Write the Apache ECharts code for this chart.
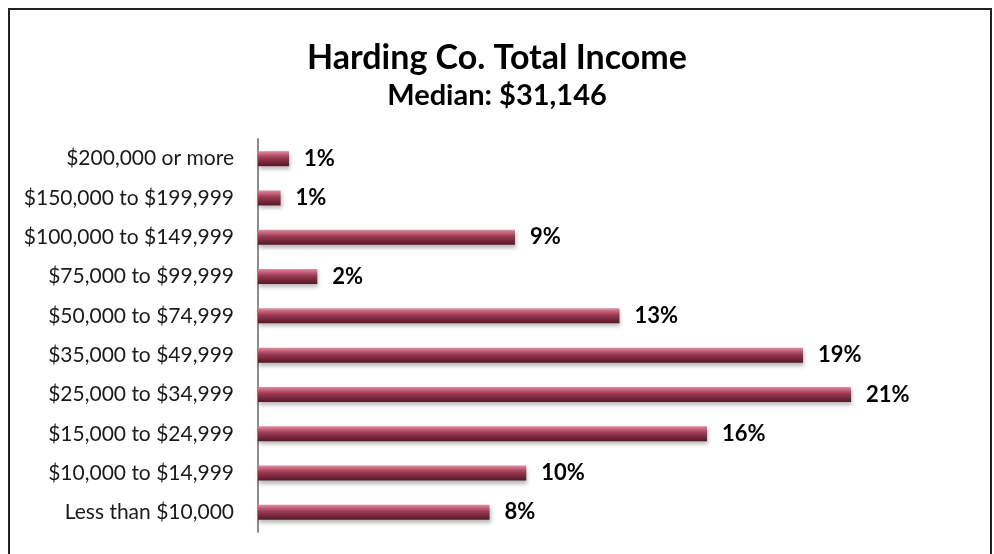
<!DOCTYPE html>
<html>
<head>
<meta charset="utf-8">
<script src="https://cdn.jsdelivr.net/npm/echarts@6/dist/echarts.min.js"></script>
<style>
  html, body { margin: 0; padding: 0; background: #fff; }
  #chart { width: 994px; height: 554px; }
</style>
</head>
<body>
<div id="chart"></div>
<script>
// Income brackets, listed from the bottom of the chart upwards
const categories = [
  'Less than $10,000',
  '$10,000 to $14,999',
  '$15,000 to $24,999',
  '$25,000 to $34,999',
  '$35,000 to $49,999',
  '$50,000 to $74,999',
  '$75,000 to $99,999',
  '$100,000 to $149,999',
  '$150,000 to $199,999',
  '$200,000 or more'
];

// Share of households in each bracket (percent)
const shares = [8.2, 9.5, 15.9, 21.0, 19.3, 12.8, 2.1, 9.1, 0.8, 1.1];

const titleText = 'Harding Co. Total Income';
const subtitleText = 'Median: $31,146';

const chart = echarts.init(document.getElementById('chart'));

const barFill = new echarts.graphic.LinearGradient(0, 0, 0, 1, [
  { offset: 0.00, color: '#e08ea0' },
  { offset: 0.22, color: '#c25e76' },
  { offset: 0.45, color: '#9a3a52' },
  { offset: 0.75, color: '#74263a' },
  { offset: 1.00, color: '#551828' }
]);

chart.setOption({
  backgroundColor: '#ffffff',
  animation: false,
  title: [
    {
      text: titleText,
      left: 'center',
      top: 34,
      textStyle: { fontFamily: 'Lato', fontWeight: 'bold', fontSize: 34, color: '#000', lineHeight: 38 }
    },
    {
      text: subtitleText,
      left: 'center',
      top: 75,
      textStyle: { fontFamily: 'Lato', fontWeight: 'bold', fontSize: 29, color: '#000', lineHeight: 32 }
    }
  ],
  grid: { left: 258, right: 30, top: 139, bottom: 22, containLabel: false },
  xAxis: {
    type: 'value',
    min: 0,
    max: 25,
    show: false
  },
  yAxis: {
    type: 'category',
    data: categories,
    axisLine: { show: true, lineStyle: { color: '#8c8c8c', width: 2 } },
    axisTick: { show: false },
    axisLabel: {
      margin: 24,
      fontFamily: 'Lato',
      fontSize: 21,
      color: '#1a1a1a'
    },
    splitLine: { show: false }
  },
  series: [
    {
      type: 'bar',
      data: shares,
      barWidth: 15,
      itemStyle: {
        color: barFill,
        shadowColor: 'rgba(0,0,0,0.28)',
        shadowBlur: 4,
        shadowOffsetY: 3,
        shadowOffsetX: 1
      },
      label: {
        show: true,
        position: 'right',
        distance: 15,
        fontFamily: 'Lato',
        fontWeight: 'bold',
        fontSize: 22,
        color: '#000',
        formatter: p => Math.round(p.value) + '%'
      }
    }
  ],
  graphic: [
    {
      type: 'rect',
      shape: { x: 9, y: 9, width: 982, height: 560 },
      style: { fill: 'none', stroke: '#222', lineWidth: 2 },
      silent: true
    }
  ]
});
</script>
</body>
</html>
